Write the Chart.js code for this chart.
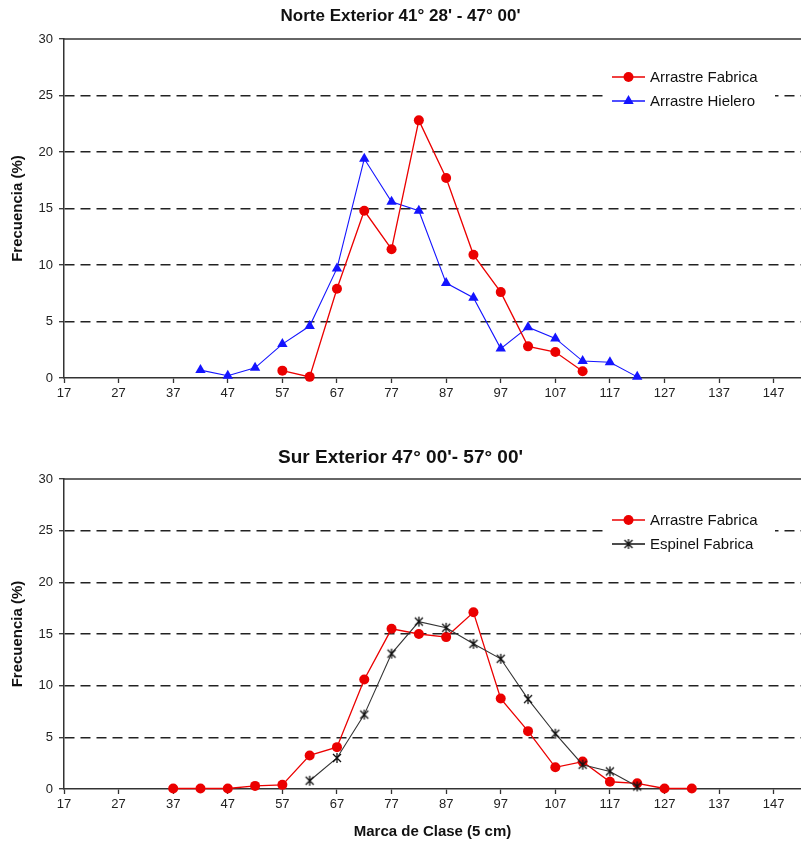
<!DOCTYPE html>
<html>
<head>
<meta charset="utf-8">
<script src="https://cdn.jsdelivr.net/npm/chart.js"></script>
<style>
  html, body { margin: 0; padding: 0; background: #fff; }
  body { width: 801px; height: 850px; position: relative; overflow: hidden; }
  .wrap { position: absolute; left: 0; width: 801px; height: 420px; }
  #w1 { top: 0; }
  #w2 { top: 430px; }
</style>
</head>
<body>
<div class="wrap" id="w1"><canvas id="c1" width="801" height="420"></canvas></div>
<div class="wrap" id="w2"><canvas id="c2" width="801" height="420"></canvas></div>
<script>
// ---------- data ----------
const classMarks = [37, 42, 47, 52, 57, 62, 67, 72, 77, 82, 87, 92, 97, 102, 107, 112, 117, 122, 127, 132];
const xTickLabels = [17, 27, 37, 47, 57, 67, 77, 87, 97, 107, 117, 127, 137, 147];
const yTickLabels = [0, 5, 10, 15, 20, 25, 30];

const norteArrastreFabrica = [null, null, null, null, 0.65, 0.1, 7.9, 14.8, 11.4, 22.8, 17.7, 10.9, 7.6, 2.8, 2.3, 0.6, null, null, null, null];
const norteArrastreHielero = [null, 0.7, 0.2, 0.9, 3.0, 4.6, 9.7, 19.4, 15.6, 14.8, 8.4, 7.1, 2.6, 4.5, 3.5, 1.5, 1.4, 0.1, null, null];
const surArrastreFabrica   = [0.05, 0.05, 0.05, 0.3, 0.4, 3.25, 4.05, 10.6, 15.5, 15.0, 14.7, 17.1, 8.75, 5.6, 2.1, 2.65, 0.7, 0.55, 0.05, 0.05];
const surEspinelFabrica    = [null, null, null, null, null, 0.8, 3.0, 7.2, 13.1, 16.2, 15.6, 14.05, 12.6, 8.7, 5.35, 2.35, 1.7, 0.25, null, null];

const titleNorte = "Norte Exterior 41° 28' - 47° 00'";
const titleSur = "Sur Exterior 47° 00'- 57° 00'";
const yTitle = "Frecuencia (%)";
const xTitle = "Marca de Clase (5 cm)";

// ---------- helpers ----------
const FONT = "'Liberation Sans', Arial, sans-serif";
function toPoints(values) {
  const out = [];
  values.forEach((v, i) => { if (v !== null) out.push({ x: classMarks[i], y: v }); });
  return out;
}

function makeStar() {
  const c = document.createElement('canvas');
  c.width = 12; c.height = 12;
  const g = c.getContext('2d');
  g.strokeStyle = '#111';
  g.lineWidth = 1.3;
  g.beginPath();
  g.moveTo(2, 2); g.lineTo(10, 10);
  g.moveTo(10, 2); g.lineTo(2, 10);
  g.moveTo(6, 1); g.lineTo(6, 11);
  g.stroke();
  return c;
}
const starImg = makeStar();

const RED = 'rgb(235,0,0)';
const BLUE = 'rgb(20,20,255)';

function drawMarker(ctx, kind, color, x, y) {
  ctx.save();
  ctx.fillStyle = color;
  ctx.strokeStyle = color;
  if (kind === 'circle') {
    ctx.beginPath(); ctx.arc(x, y, 5, 0, Math.PI * 2); ctx.fill();
  } else if (kind === 'triangle') {
    const r = 6;
    ctx.beginPath();
    ctx.moveTo(x, y - r);
    ctx.lineTo(x + r * Math.sin(2 * Math.PI / 3), y - r * Math.cos(2 * Math.PI / 3));
    ctx.lineTo(x + r * Math.sin(4 * Math.PI / 3), y - r * Math.cos(4 * Math.PI / 3));
    ctx.closePath(); ctx.fill();
  } else if (kind === 'star') {
    ctx.drawImage(starImg, x - 6, y - 6);
  }
  ctx.restore();
}

// legend + solid top border plugin
const decorPlugin = {
  id: 'decor',
  afterDraw(chart, args, opts) {
    const ctx = chart.ctx;
    const a = chart.chartArea;
    ctx.save();
    // solid top line at 30
    ctx.strokeStyle = '#333';
    ctx.lineWidth = 1.5;
    ctx.beginPath();
    ctx.moveTo(a.left, a.top); ctx.lineTo(a.right, a.top);
    ctx.stroke();
    // legend
    const items = opts.items || [];
    const lx = 605, ly = a.top + opts.top;
    ctx.fillStyle = '#fff';
    ctx.fillRect(lx, ly, 170, 48);
    items.forEach((it, i) => {
      const cy = ly + 12 + i * 24;
      ctx.strokeStyle = it.color;
      ctx.lineWidth = 1.3;
      ctx.beginPath();
      ctx.moveTo(612, cy); ctx.lineTo(645, cy);
      ctx.stroke();
      drawMarker(ctx, it.marker, it.markerColor || it.color, 628.5, cy);
      ctx.fillStyle = '#111';
      ctx.font = "15px " + FONT;
      ctx.textBaseline = 'middle';
      ctx.textAlign = 'left';
      ctx.fillText(it.label, 650, cy + 1);
    });
    ctx.restore();
  }
};

function makeOptions(cfg) {
  return {
    responsive: false,
    animation: false,
    events: [],
    layout: { autoPadding: false, padding: { left: 0, right: 0, top: 0, bottom: 0 } },
    plugins: {
      legend: { display: false },
      tooltip: { enabled: false },
      title: {
        display: true,
        text: cfg.title,
        color: '#111',
        font: { family: FONT, size: cfg.titleSize, weight: 'bold', lineHeight: 1.2 },
        padding: cfg.titlePadding
      },
      decor: { items: cfg.legend, top: cfg.legendTop }
    },
    scales: {
      x: {
        type: 'linear',
        min: 17,
        max: 152,
        afterBuildTicks: (s) => { s.ticks = xTickLabels.map(v => ({ value: v })); },
        afterFit: (s) => { s.height = cfg.xHeight; },
        ticks: { color: '#222', font: { family: FONT, size: 13 }, padding: 3, maxRotation: 0, autoSkip: false },
        grid: { display: true, drawOnChartArea: false, drawTicks: true, tickLength: 5, tickColor: '#333', tickWidth: 1.3 },
        border: { display: true, color: '#333', width: 1.5 },
        title: cfg.xTitle ? {
          display: true, text: cfg.xTitle, color: '#111',
          font: { family: FONT, size: 15, weight: 'bold', lineHeight: 1.2 },
          padding: { top: 0, bottom: 9 }
        } : { display: false }
      },
      y: {
        type: 'linear',
        min: 0,
        max: 30,
        afterBuildTicks: (s) => { s.ticks = yTickLabels.map(v => ({ value: v })); },
        afterFit: (s) => { s.width = 64; },
        ticks: { color: '#222', font: { family: FONT, size: 13 }, padding: 6 },
        grid: {
          display: true,
          drawOnChartArea: true,
          drawTicks: true,
          tickLength: 5,
          tickColor: '#333',
          tickWidth: 1.3,
          tickBorderDash: [],
          lineWidth: 1.4,
          color: (c) => (c.tick && (c.tick.value === 0 || c.tick.value === 30)) ? 'rgba(0,0,0,0)' : '#222'
        },
        border: { display: true, color: '#333', width: 1.5, dash: [10, 6] },
        title: {
          display: true, text: yTitle, color: '#111',
          font: { family: FONT, size: 15, weight: 'bold', lineHeight: 1.2 },
          padding: { top: 9, bottom: 0 }
        }
      }
    }
  };
}

// ---------- chart 1 ----------
new Chart(document.getElementById('c1'), {
  type: 'line',
  data: {
    datasets: [
      {
        label: 'Arrastre Fabrica',
        data: toPoints(norteArrastreFabrica),
        borderColor: RED, backgroundColor: RED,
        borderWidth: 1.3, pointStyle: 'circle', pointRadius: 5, pointBorderWidth: 0,
        pointBackgroundColor: RED, tension: 0, clip: false, order: 0
      },
      {
        label: 'Arrastre Hielero',
        data: toPoints(norteArrastreHielero),
        borderColor: BLUE, backgroundColor: BLUE,
        borderWidth: 1.1, pointStyle: 'triangle', pointRadius: 6, pointBorderWidth: 0,
        pointBackgroundColor: BLUE, tension: 0, clip: false, order: 1
      }
    ]
  },
  options: makeOptions({
    title: titleNorte, titleSize: 17,
    titlePadding: { top: 5.8, bottom: 12.8 },
    xHeight: 42, xTitle: null, legendTop: 26,
    legend: [
      { label: 'Arrastre Fabrica', color: RED, marker: 'circle' },
      { label: 'Arrastre Hielero', color: BLUE, marker: 'triangle' }
    ]
  }),
  plugins: [decorPlugin]
});

// ---------- chart 2 ----------
new Chart(document.getElementById('c2'), {
  type: 'line',
  data: {
    datasets: [
      {
        label: 'Arrastre Fabrica',
        data: toPoints(surArrastreFabrica),
        borderColor: RED, backgroundColor: RED,
        borderWidth: 1.3, pointStyle: 'circle', pointRadius: 5, pointBorderWidth: 0,
        pointBackgroundColor: RED, tension: 0, clip: false, order: 1
      },
      {
        label: 'Espinel Fabrica',
        data: toPoints(surEspinelFabrica),
        borderColor: '#333', backgroundColor: '#333',
        borderWidth: 1.1, pointStyle: starImg, pointRadius: 6,
        tension: 0, clip: false, order: 0
      }
    ]
  },
  options: makeOptions({
    title: titleSur, titleSize: 19,
    titlePadding: { top: 16.6, bottom: 9.6 },
    xHeight: 61, xTitle: xTitle, legendTop: 29,
    legend: [
      { label: 'Arrastre Fabrica', color: RED, marker: 'circle' },
      { label: 'Espinel Fabrica', color: '#111', marker: 'star' }
    ]
  }),
  plugins: [decorPlugin]
});
</script>
</body>
</html>
